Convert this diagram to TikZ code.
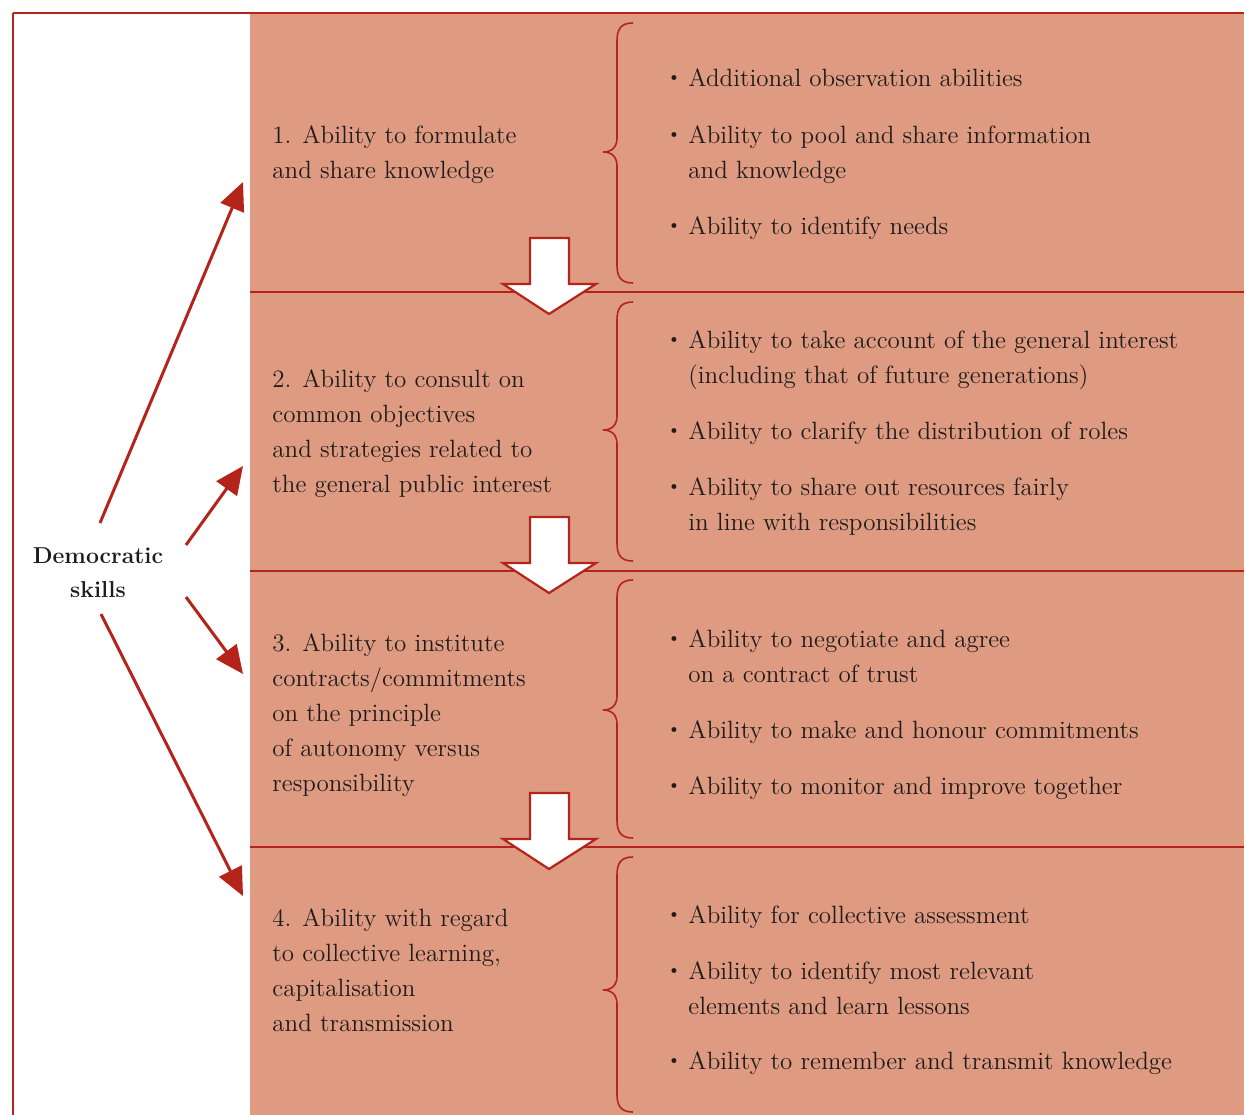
\documentclass[tikz,border=0pt]{standalone}
\usetikzlibrary{arrows.meta}
\definecolor{panel}{HTML}{DE9B82}
\definecolor{rust}{HTML}{B4241A}
\definecolor{ink}{HTML}{1F1B1A}
% left-aligned block whose baseline is its first line
\newcommand{\blk}[1]{\begin{tabular}[t]{@{}l@{}}#1\end{tabular}}
% bulleted item with hanging continuation lines
\newcommand{\bul}[1]{\makebox[9pt][l]{\raisebox{2.6pt}{\tiny$\bullet$}}\begin{tabular}[t]{@{}l@{}}#1\end{tabular}}
\begin{document}
\begin{tikzpicture}[x=0.5pt,y=-0.5pt,
  font=\fontsize{12.5}{17.5}\selectfont, text=ink,
  lbl/.style={anchor=base west, inner sep=0pt},
  sep/.style={draw=rust, line width=0.6pt},
  brace/.style={draw=rust, line width=0.8pt},
  downarrow/.style={draw=rust, fill=white, line width=1.1pt, line join=miter},
  skillarrow/.style={draw=rust, line width=1.5pt, -{Triangle[length=14pt,width=12.5pt]}}]
\useasboundingbox (0,0) rectangle (1244,1115);

% salmon panel and frame
\fill[panel] (250,13) rectangle (1244,1115);
\draw[rust, line width=0.8pt] (13,1115) -- (13,13);
\draw[rust, line width=1.2pt] (13,13) -- (1244,13);

% row separators
\foreach \s in {292,571,847}
  \draw[sep] (250,\s) -- (1244,\s);

% hollow arrows between the rows
\foreach \s in {292,571,847}
  \draw[downarrow] (530,\s-54) -- (569,\s-54) -- (569,\s-8) -- (596,\s-8)
     -- (549,\s+22) -- (503,\s-8) -- (530,\s-8) -- cycle;

% curly braces
\foreach \t/\m/\b in {23/152/283, 302/430/561, 580/710/838, 857/990/1112}
  \draw[brace] (633,\t) .. controls (621,\t) and (617,\t+6) .. (617,\t+18)
     -- (617,\m-14) .. controls (617,\m-5) and (612,\m) .. (603,\m)
     .. controls (612,\m) and (617,\m+5) .. (617,\m+14)
     -- (617,\b-18) .. controls (617,\b-6) and (621,\b) .. (633,\b);

% skills column
\node[lbl] (s1) at (272,143) {\blk{1. Ability to formulate\\and share knowledge}};
\node[lbl] (s2) at (272,387) {\blk{2. Ability to consult on\\common objectives\\and strategies related to\\the general public interest}};
\node[lbl] (s3) at (272,651) {\blk{3. Ability to institute\\contracts/commitments\\on the principle\\of autonomy versus\\responsibility}};
\node[lbl] (s4) at (272,926) {\blk{4. Ability with regard\\to collective learning,\\capitalisation\\and transmission}};

% abilities column
\node[lbl] (a1) at (670,86)  {\bul{Additional observation abilities}};
\node[lbl] (a2) at (670,143) {\bul{Ability to pool and share information\\and knowledge}};
\node[lbl] (a3) at (670,234) {\bul{Ability to identify needs}};
\node[lbl] (b1) at (670,348) {\bul{Ability to take account of the general interest\\(including that of future generations)}};
\node[lbl] (b2) at (670,439) {\bul{Ability to clarify the distribution of roles}};
\node[lbl] (b3) at (670,495) {\bul{Ability to share out resources fairly\\in line with responsibilities}};
\node[lbl] (c1) at (670,647) {\bul{Ability to negotiate and agree\\on a contract of trust}};
\node[lbl] (c2) at (670,738) {\bul{Ability to make and honour commitments}};
\node[lbl] (c3) at (670,794) {\bul{Ability to monitor and improve together}};
\node[lbl] (d1) at (670,923) {\bul{Ability for collective assessment}};
\node[lbl] (d2) at (670,979) {\bul{Ability to identify most relevant\\elements and learn lessons}};
\node[lbl] (d3) at (670,1069) {\bul{Ability to remember and transmit knowledge}};

% central label and its arrows
\node[anchor=base, inner sep=0pt, font=\bfseries\fontsize{11.5}{17}\selectfont] (ds) at (98,563)
  {\begin{tabular}[t]{@{}c@{}}Democratic\\skills\end{tabular}};
\coordinate (o1) at (100,523);
\coordinate (o2) at (186,545);
\coordinate (o3) at (186,597);
\coordinate (o4) at (101,614);
\coordinate (t1) at (243,182);
\coordinate (t2) at (243,466);
\coordinate (t3) at (243,674);
\coordinate (t4) at (243,896);
\draw[skillarrow] (o1) -- (t1);
\draw[skillarrow] (o2) -- (t2);
\draw[skillarrow] (o3) -- (t3);
\draw[skillarrow] (o4) -- (t4);
\end{tikzpicture}
\end{document}
